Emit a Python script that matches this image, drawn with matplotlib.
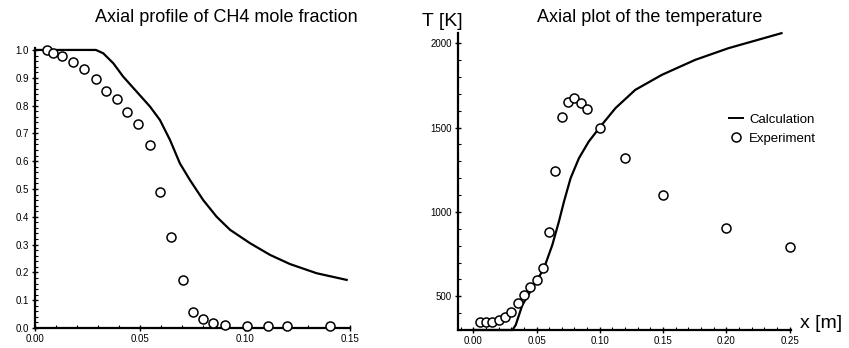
import matplotlib
matplotlib.use("Agg")
import matplotlib.pyplot as plt
from matplotlib.ticker import MultipleLocator, FixedLocator
from matplotlib.lines import Line2D

plt.rcParams['font.family'] = ['Liberation Sans', 'DejaVu Sans']

# --- CH4 mole fraction along the axis ---
ch4_calc_x = [0.000, 0.010, 0.020, 0.029, 0.0325, 0.0373, 0.042, 0.0484, 0.0548,
              0.0595, 0.0643, 0.0690, 0.0738, 0.0801, 0.0865, 0.0929, 0.1024,
              0.1119, 0.1214, 0.1341, 0.1484]
ch4_calc_y = [1.000, 1.000, 1.000, 1.000, 0.988, 0.952, 0.904, 0.850, 0.796,
              0.748, 0.676, 0.592, 0.532, 0.460, 0.400, 0.353, 0.305,
              0.263, 0.230, 0.197, 0.173]

ch4_exp_x = [0.0056, 0.0087, 0.0127, 0.0182, 0.0235, 0.029, 0.0338, 0.0389,
             0.0437, 0.0492, 0.0548, 0.0595, 0.0646, 0.0703, 0.0754, 0.0802,
             0.0849, 0.0905, 0.1008, 0.111, 0.1202, 0.1405]
ch4_exp_y = [1.000, 0.990, 0.978, 0.956, 0.932, 0.895, 0.853, 0.823,
             0.778, 0.733, 0.658, 0.490, 0.328, 0.173, 0.059, 0.032,
             0.017, 0.011, 0.008, 0.007, 0.007, 0.007]

# --- Temperature along the axis ---
t_calc_x = [0.000, 0.010, 0.020, 0.031, 0.0336, 0.0388, 0.0467, 0.0559, 0.0625,
            0.0677, 0.0717, 0.0769, 0.0835, 0.0913, 0.1005, 0.1124, 0.128,
            0.149, 0.1754, 0.2016, 0.2435]
t_calc_y = [300, 300, 300, 300, 330, 448, 547, 666, 804,
            943, 1061, 1199, 1318, 1417, 1506, 1615, 1723,
            1812, 1901, 1970, 2059]

t_exp_x = [0.005, 0.010, 0.015, 0.020, 0.025, 0.030, 0.035, 0.040, 0.045,
           0.050, 0.055, 0.060, 0.065, 0.070, 0.075, 0.080, 0.085, 0.090,
           0.100, 0.120, 0.150, 0.200, 0.250]
t_exp_y = [350, 350, 350, 359, 379, 409, 458, 507, 557,
           596, 666, 883, 1245, 1561, 1654, 1674, 1644, 1609,
           1500, 1318, 1100, 903, 789]

ch4_xticks = [0.00, 0.05, 0.10, 0.15]
ch4_xlabels = ["0.00", "0.05", "0.10", "0.15"]
ch4_yticks = [0.0, 0.1, 0.2, 0.3, 0.4, 0.5, 0.6, 0.7, 0.8, 0.9, 1.0]
ch4_ylabels = ["0.0", "0.1", "0.2", "0.3", "0.4", "0.5", "0.6", "0.7", "0.8", "0.9", "1.0"]
t_xticks = [0.00, 0.05, 0.10, 0.15, 0.20, 0.25]
t_xlabels = ["0.00", "0.05", "0.10", "0.15", "0.20", "0.25"]
t_yticks = [500, 1000, 1500, 2000]
t_ylabels = ["500", "1000", "1500", "2000"]

W, H = 849, 348
fig = plt.figure(figsize=(W / 100, H / 100), dpi=100)


def frac(x0, y0, x1, y1):
    return [x0 / W, 1 - y1 / H, (x1 - x0) / W, (y1 - y0) / H]


marker_kw = dict(linestyle='none', marker='o', ms=6.5, mfc='white', mec='black', mew=1.1)


def style(ax):
    for s in ('top', 'right'):
        ax.spines[s].set_visible(False)
    for s in ('left', 'bottom'):
        ax.spines[s].set_linewidth(1.6)
    ax.tick_params(which='major', direction='inout', length=5, width=1.0,
                   labelsize=7, pad=2)
    ax.tick_params(which='minor', direction='in', length=2.5, width=0.8)


# Left panel: CH4
ax1 = fig.add_axes(frac(35, 48, 350, 328))
ax1.plot(ch4_calc_x, ch4_calc_y, color='black', lw=1.6, zorder=2)
ax1.plot(ch4_exp_x, ch4_exp_y, zorder=3, clip_on=False, **marker_kw)
ax1.set_xlim(0, 0.15)
ax1.set_ylim(0, 1.007)
ax1.xaxis.set_major_locator(FixedLocator(ch4_xticks))
ax1.set_xticklabels(ch4_xlabels)
ax1.yaxis.set_major_locator(FixedLocator(ch4_yticks))
ax1.set_yticklabels(ch4_ylabels)
ax1.xaxis.set_minor_locator(MultipleLocator(0.01))
ax1.yaxis.set_minor_locator(MultipleLocator(0.02))
style(ax1)
fig.text(226 / W, 1 - 18 / H, "Axial profile of CH4 mole fraction",
         ha='center', va='center', fontsize=13)

# Right panel: temperature
ax2 = fig.add_axes(frac(458, 33, 791, 330))
ax2.plot(t_calc_x, t_calc_y, color='black', lw=1.6, zorder=2, clip_on=False)
ax2.plot(t_exp_x, t_exp_y, zorder=3, clip_on=False, **marker_kw)
ax2.set_xlim(-0.012, 0.251)
ax2.set_ylim(300, 2060)
ax2.xaxis.set_major_locator(FixedLocator(t_xticks))
ax2.set_xticklabels(t_xlabels)
ax2.yaxis.set_major_locator(FixedLocator(t_yticks))
ax2.set_yticklabels(t_ylabels)
ax2.xaxis.set_minor_locator(MultipleLocator(0.01))
ax2.yaxis.set_minor_locator(MultipleLocator(100))
style(ax2)
fig.text(650 / W, 1 - 18 / H, "Axial plot of the temperature",
         ha='center', va='center', fontsize=13)
fig.text(442 / W, 1 - 22 / H, "T [K]", ha='center', va='center', fontsize=14)
fig.text(821 / W, 1 - 323 / H, "x [m]", ha='center', va='center', fontsize=14)

handles = [Line2D([], [], color='black', lw=1.4),
           Line2D([], [], **marker_kw)]
fig.legend(handles, ["Calculation", "Experiment"], loc='upper left',
           bbox_to_anchor=(722 / W, 1 - 107 / H), frameon=False, fontsize=9.5,
           handlelength=1.1, handletextpad=0.45, labelspacing=0.5, borderpad=0)

fig.savefig("out.png", dpi=100)
